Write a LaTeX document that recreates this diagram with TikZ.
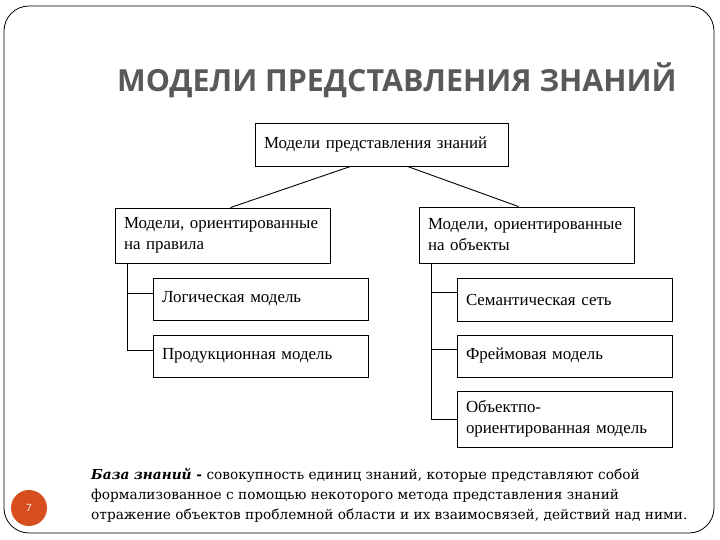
\documentclass[tikz,border=0pt]{standalone}
\usepackage{fontspec}
\setmainfont{Liberation Serif}
\newfontfamily\titlefont{Open Sans}
\newfontfamily\notefont{DejaVu Serif}
\usepackage{tikz}
\usetikzlibrary{positioning,calc}
\usepackage{xcolor}
\definecolor{colT}{RGB}{89,89,89}
\definecolor{colN}{RGB}{214,78,30}

\begin{document}
\begin{tikzpicture}[
  x=1pt,y=-1pt,
  every node/.style={font=\fontsize{16.9}{21}\selectfont},
  box/.style={draw,line width=0.9pt,minimum width=215,minimum height=42,text width=197pt,inner xsep=9pt,align=left},
  link/.style={line width=0.9pt}
]
\useasboundingbox (0,0) rectangle (720,540);
\draw[line width=0.8pt,rounded corners=25] (4,6) rectangle (714,533);
\node[text=colT,font=\titlefont\bfseries\fontsize{30.4}{36}\selectfont] (title) at (397,80) {МОДЕЛИ ПРЕДСТАВЛЕНИЯ ЗНАНИЙ};
\node[box,minimum width=253,text width=235pt,minimum height=43] (top) at (381.5,144.5) {Модели представления знаний};
\node[box,minimum height=55] (rules) at (222.5,235.5) {Модели, ориентированные\\на правила};
\node[box,minimum height=56] (objs) at (526.5,235) {Модели, ориентированные\\на объекты};
\node[box] (logic) at (260.5,299) {Логическая модель};
\node[box] (prod) at (260.5,356) {Продукционная модель};
\node[box,minimum height=43] (sem) at (564.5,299.5) {Семантическая сеть};
\node[box] (frame) at (564.5,356) {Фреймовая модель};
\node[box,minimum height=56] (oop) at (564.5,419) {Объектпо-\\ориентированная модель};
\draw[link] ([xshift=-31pt]top.south) -- ([xshift=8pt]rules.north);
\draw[link] ([xshift=26pt]top.south) -- ([xshift=-8pt]objs.north);
\coordinate (lt) at ([xshift=13pt]rules.south west);
\coordinate (rt) at ([xshift=13pt]objs.south west);
\draw[link] (lt) |- ([yshift=6pt]logic.west);
\draw[link] (lt) |- ([yshift=6pt]prod.west);
\draw[link] (rt) |- ([yshift=7pt]sem.west);
\draw[link] (rt) |- ([yshift=7pt]frame.west);
\draw[link] (rt) |- (oop.west);
\node[circle,fill=colN,minimum size=36,inner sep=0pt,text=white,font=\titlefont\fontsize{10}{12}\selectfont] (num) at (29,508) {7};
\node[anchor=north west,inner sep=0pt,align=left,font=\notefont\fontsize{13.7}{20}\selectfont] (note) at (91,468)
  {{\bfseries\itshape База знаний -} совокупность единиц знаний, которые представляют собой\\
   формализованное с помощью некоторого метода представления знаний\\
   отражение объектов проблемной области и их взаимосвязей, действий над ними.};
\end{tikzpicture}
\end{document}
